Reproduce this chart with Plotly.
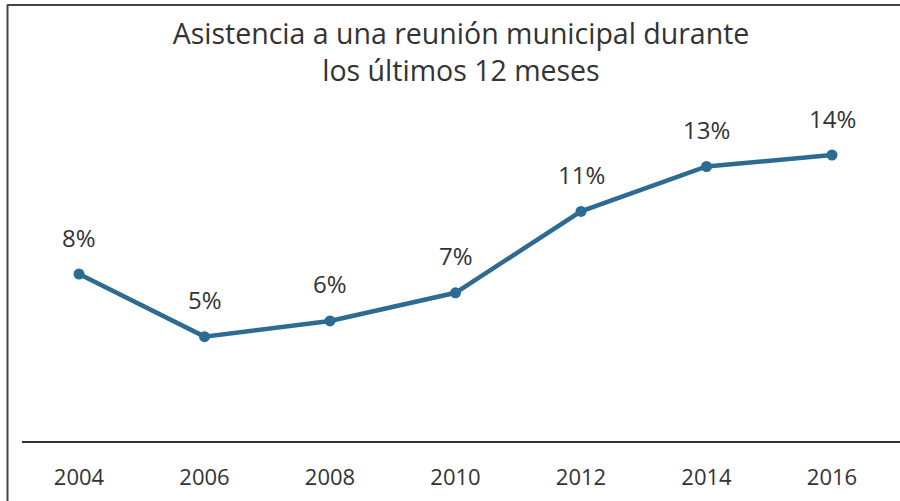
import plotly.graph_objects as go

years = [2004, 2006, 2008, 2010, 2012, 2014, 2016]
values = [8.0, 5.0, 5.75, 7.1, 11.0, 13.15, 13.7]
labels = ["8%", "5%", "6%", "7%", "11%", "13%", "14%"]
title_text = "Asistencia a una reunión municipal durante<br>los últimos 12 meses"

line_color = "#2d6b93"
text_color = "#333333"
font_family = "Open Sans, Noto Sans, sans-serif"

fig = go.Figure()
fig.add_trace(go.Scatter(
    x=years, y=values, mode="lines+markers",
    line=dict(color=line_color, width=4.5),
    marker=dict(color=line_color, size=11),
    hoverinfo="skip",
))

for xv, yv, lab in zip(years, values, labels):
    fig.add_annotation(x=xv, y=yv, text=lab, showarrow=False, yshift=37,
                       font=dict(size=24, color=text_color, family=font_family))

L, R, T, B = 22, 0, 100, 60
W, H = 900, 501
pw, ph = W - L - R, H - T - B

def px2paperx(px):
    return (px - L) / pw

def py2papery(py):
    return (H - B - py) / ph

# frame lines (left and top)
fig.add_shape(type="line", xref="paper", yref="paper",
              x0=px2paperx(7.5), x1=px2paperx(7.5), y0=py2papery(5), y1=py2papery(H),
              line=dict(color="#444444", width=2))
fig.add_shape(type="line", xref="paper", yref="paper",
              x0=px2paperx(7), x1=px2paperx(W), y0=py2papery(5), y1=py2papery(5),
              line=dict(color="#444444", width=2))

ppy = (832 - 79) / 12.0
x0 = 2004 - (79 - L) / ppy
x1 = 2016 + (W - R - 832) / ppy
ppv = (441 - 274) / 8.0
ymax = ph / ppv

fig.update_layout(
    width=W, height=H,
    margin=dict(l=L, r=R, t=T, b=B),
    paper_bgcolor="white", plot_bgcolor="white",
    showlegend=False,
    title=dict(text=title_text, x=0.5, xref="paper", y=1 - 44 / H, yanchor="middle",
               font=dict(size=28.5, color=text_color, family=font_family)),
    xaxis=dict(range=[x0, x1], tickvals=years, ticktext=[str(y) for y in years],
               showgrid=False, zeroline=False, showline=True, linecolor="#333333",
               linewidth=1.5, ticks="", ticklen=0,
               tickfont=dict(size=22, color=text_color, family=font_family)),
    yaxis=dict(range=[0, ymax], visible=False, showgrid=False, zeroline=False),
    font=dict(family=font_family, color=text_color),
)
fig.update_xaxes(ticklabelstandoff=16)

fig.write_html("out.html", config={"displayModeBar": False},
               post_script="document.body.style.margin='0';document.body.style.overflow='hidden';")
